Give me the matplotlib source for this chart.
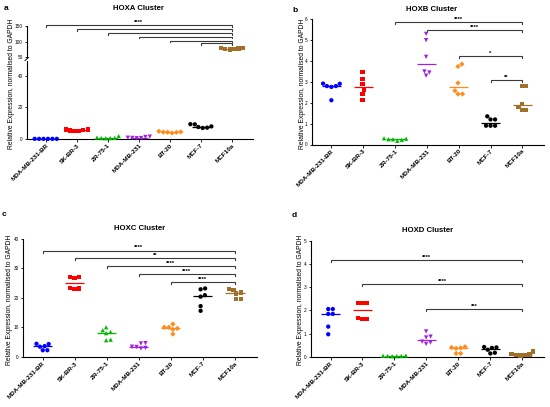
import matplotlib
matplotlib.use('Agg')
import matplotlib.pyplot as plt
import numpy as np

plt.rcParams['font.family'] = ['Liberation Sans', 'DejaVu Sans']

categories = ['MDA-MB-231-BR', 'SK-BR-3', 'ZR-75-1', 'MDA-MB-231', 'BT-20', 'MCF-7', 'MCF10a']
colors = ['#0000FF', '#FF0000', '#00B800', '#A020E0', '#FF8C1A', '#000000', '#A0702A']
markers = ['o', 's', '^', 'v', 'D', 'o', 's']

# HOXA (broken axis: MCF10a on upper segment)
hoxa_vals = [
    [0.1, 0.1, 0.1, 0.1, 0.1, 0.1],
    [4.9, 6.1, 5.1, 5.9, 5.3, 6.0],
    [0.6, 0.9, 1.8, 0.7, 0.5, 0.6],
    [0.5, 1.3, 0.7, 1.5, 0.6, 0.8],
    [4.2, 4.5, 4.9, 4.4, 3.8, 4.3],
    [9.3, 7.0, 8.0, 9.4, 7.2, 7.6],
    [75, 78, 74, 80, 76, 77],
]
hoxa_sig_from = [0, 1, 2, 3, 4, 5]
hoxa_sig_y = [152, 139, 127, 115, 102, 94]
hoxa_sig_text = ['****', '', '', '', '', '']

hoxb_vals = [
    [2.91, 2.12, 2.80, 2.80, 2.92, 2.76],
    [3.47, 3.13, 2.91, 2.63, 2.43, 2.12],
    [0.30, 0.22, 0.25, 0.28, 0.18, 0.25],
    [5.30, 5.00, 4.20, 3.50, 3.45, 3.30],
    [3.85, 3.74, 2.95, 2.58, 2.42, 2.42],
    [1.35, 1.20, 1.20, 0.90, 0.90, 0.90],
    [2.80, 2.80, 1.95, 1.80, 1.65, 1.65],
]
hoxb_sig_from = [2, 3, 4, 5]
hoxb_sig_y = [5.86, 5.49, 4.22, 3.10]
hoxb_sig_text = ['****', '****', '*', '**']

hoxc_vals = [
    [4.3, 2.2, 3.6, 4.4, 2.2, 3.4],
    [27.2, 26.8, 27.0, 23.0, 23.3, 23.2],
    [9.0, 5.6, 8.0, 10.0, 5.8, 8.4],
    [4.5, 3.4, 3.0, 4.6, 2.8, 3.3],
    [10.0, 9.3, 11.1, 7.7, 10.0, 9.6],
    [22.9, 23.2, 20.4, 20.9, 17.2, 15.6],
    [22.9, 22.7, 21.8, 19.7, 19.7, 21.5],
]
hoxc_sig_from = [0, 1, 2, 3, 4]
hoxc_sig_y = [36.0, 33.4, 30.8, 28.1, 25.3]
hoxc_sig_text = ['****', '**', '****', '****', '****']

hoxd_vals = [
    [2.06, 2.06, 1.85, 1.85, 1.30, 0.97],
    [2.32, 2.32, 2.32, 1.62, 1.68, 1.64],
    [0.03, 0.04, 0.02, 0.03, 0.05, 0.02],
    [1.09, 0.87, 0.83, 0.65, 0.61, 0.55],
    [0.38, 0.14, 0.36, 0.40, 0.14, 0.43],
    [0.38, 0.14, 0.30, 0.40, 0.17, 0.42],
    [0.06, 0.12, 0.22, 0.10, 0.08, 0.05],
]
hoxd_sig_from = [0, 1, 3]
hoxd_sig_y = [4.16, 3.14, 2.05]
hoxd_sig_text = ['****', '****', '***']

W, H = 550, 407
fig = plt.figure(figsize=(W / 100, H / 100), dpi=100)

TICK_FS = 3.4
CAT_FS = 4.6
YL = 'Relative Expression, normalised to GAPDH'
XL = (-0.62, 6.68)
MS_PX = 4.3     # marker diameter (px)
SEP_PX = 4.5    # swarm separation (px)


def ax_px(x0, x1, ytop, ybot):
    return fig.add_axes([x0 / W, 1 - ybot / H, (x1 - x0) / W, (ybot - ytop) / H])


def style(ax, bottom=True):
    for s in ['top', 'right']:
        ax.spines[s].set_visible(False)
    ax.spines['left'].set_linewidth(0.8)
    ax.spines['bottom'].set_linewidth(0.8)
    ax.spines['bottom'].set_visible(bottom)
    ax.tick_params(axis='y', length=1.8, width=0.6, labelsize=TICK_FS, pad=1)
    ax.tick_params(axis='x', length=1.8, width=0.6, pad=1)
    ax.set_xlim(*XL)
    ax.set_facecolor('none')
    if bottom:
        ax.set_xticks(range(len(categories)))
        ax.set_xticklabels(categories, rotation=45, ha='right', rotation_mode='anchor',
                           fontsize=CAT_FS, fontweight='bold')
    else:
        ax.set_xticks([])


def swarm(vals, ppu_y, ppu_x):
    vals = np.asarray(vals, float)
    order = np.argsort(vals)
    placed = []
    offs = np.zeros(len(vals))
    d = SEP_PX
    for i in order:
        y = vals[i] * ppu_y
        cands = [0.0]
        for (px, py) in placed:
            dy = y - py
            if abs(dy) < d:
                dx = np.sqrt(d * d - dy * dy)
                cands += [px + dx, px - dx]
        cands = sorted(cands, key=lambda c: (abs(c), -c))
        for c in cands:
            if all((c - px) ** 2 + (y - py) ** 2 >= d * d - 1e-6 for px, py in placed):
                break
        placed.append((c, y))
        offs[i] = c / ppu_x
    # centre the swarm horizontally
    offs -= (offs.max() + offs.min()) / 2
    return offs


def draw_group(ax, i, vals, ppu_y, ppu_x):
    offs = swarm(vals, ppu_y, ppu_x)
    ax.scatter(np.full(len(vals), i) + offs, vals, s=(MS_PX * 0.72) ** 2 * (0.75 if markers[i] == 'D' else 1.0),
               marker=markers[i], color=colors[i], edgecolors='none', zorder=3, clip_on=False)
    med = np.median(vals)
    ax.plot([i - 0.3, i + 0.3], [med, med], color=colors[i], lw=0.9, zorder=2, solid_capstyle='butt')


def draw_sig(ax, froms, ys, texts, tick_units):
    for f, y, t in zip(froms, ys, texts):
        ax.plot([f, f, 6, 6], [y - tick_units, y, y, y - tick_units], color='#3a3a3a', lw=0.8,
                clip_on=False, zorder=1, solid_joinstyle='miter')
        if t:
            ax.text((f + 6) / 2, y + tick_units * 0.2, t, ha='center', va='bottom', fontsize=4.2,
                    fontweight='bold', clip_on=False)


def ppu(ax_h_px, lo, hi):
    return ax_h_px / (hi - lo)


ppux = 31.5

# ---------- Panel a ----------
axA = ax_px(26.5, 253, 61, 139)
axA_u = ax_px(26.5, 253, 26, 57)
style(axA)
style(axA_u, bottom=False)
axA.set_ylim(0, 49.5)
axA.set_yticks([0, 20, 40])
axA_u.set_ylim(50, 150)
axA_u.set_yticks([50, 100, 150])
pl = ppu(78, 0, 49.5)
pu = ppu(31, 50, 150)
for i in range(6):
    draw_group(axA, i, hoxa_vals[i], pl, ppux)
draw_group(axA_u, 6, hoxa_vals[6], pu, ppux)
draw_sig(axA_u, hoxa_sig_from, hoxa_sig_y, hoxa_sig_text, 4.5)
# break mark
fig.add_artist(plt.Line2D([25.0 / W, 28.5 / W], [1 - 60.5 / H, 1 - 57.5 / H], color='black', lw=0.7))
fig.text(11.7 / W, 1 - 84 / H, YL, rotation=90, ha='center', va='center', fontsize=4.9)
fig.text(138 / W, 1 - 8.3 / H, 'HOXA Cluster', ha='center', va='center', fontsize=5.6, fontweight='bold')
fig.text(4 / W, 1 - 9 / H, 'a', ha='left', va='center', fontsize=6, fontweight='bold')

# ---------- Panel b ----------
axB = ax_px(311.7, 544, 19.3, 144.5)
style(axB)
axB.set_ylim(0, 6)
axB.set_yticks(range(0, 7))
pb = ppu(125.2, 0, 6)
for i in range(7):
    draw_group(axB, i, hoxb_vals[i], pb, ppux)
draw_sig(axB, hoxb_sig_from, hoxb_sig_y, hoxb_sig_text, 0.09)
fig.text(302.7 / W, 1 - 84 / H, YL, rotation=90, ha='center', va='center', fontsize=4.9)
fig.text(431.7 / W, 1 - 9.3 / H, 'HOXB Cluster', ha='center', va='center', fontsize=5.6, fontweight='bold')
fig.text(292 / W, 1 - 10 / H, 'b', ha='left', va='center', fontsize=6, fontweight='bold')

# ---------- Panel c ----------
axC = ax_px(22.7, 256.7, 239, 356.7)
style(axC)
axC.set_ylim(0, 40)
axC.set_yticks([0, 10, 20, 30, 40])
pc = ppu(117.7, 0, 40)
for i in range(7):
    draw_group(axC, i, hoxc_vals[i], pc, ppux)
draw_sig(axC, hoxc_sig_from, hoxc_sig_y, hoxc_sig_text, 0.6)
fig.text(10 / W, 1 - 300 / H, YL, rotation=90, ha='center', va='center', fontsize=4.9)
fig.text(140 / W, 1 - 228 / H, 'HOXC Cluster', ha='center', va='center', fontsize=5.6, fontweight='bold')
fig.text(2 / W, 1 - 214 / H, 'c', ha='left', va='center', fontsize=6, fontweight='bold')

# ---------- Panel d ----------
axD = ax_px(310.7, 544, 241, 356.7)
style(axD)
axD.set_ylim(0, 5)
axD.set_yticks(range(0, 6))
pd_ = ppu(115.7, 0, 5)
for i in range(7):
    draw_group(axD, i, hoxd_vals[i], pd_, ppux)
draw_sig(axD, hoxd_sig_from, hoxd_sig_y, hoxd_sig_text, 0.07)
fig.text(300 / W, 1 - 300 / H, YL, rotation=90, ha='center', va='center', fontsize=4.9)
fig.text(427.7 / W, 1 - 231 / H, 'HOXD Cluster', ha='center', va='center', fontsize=5.6, fontweight='bold')
fig.text(292 / W, 1 - 216 / H, 'd', ha='left', va='center', fontsize=6, fontweight='bold')

fig.savefig('out.png', dpi=100)
